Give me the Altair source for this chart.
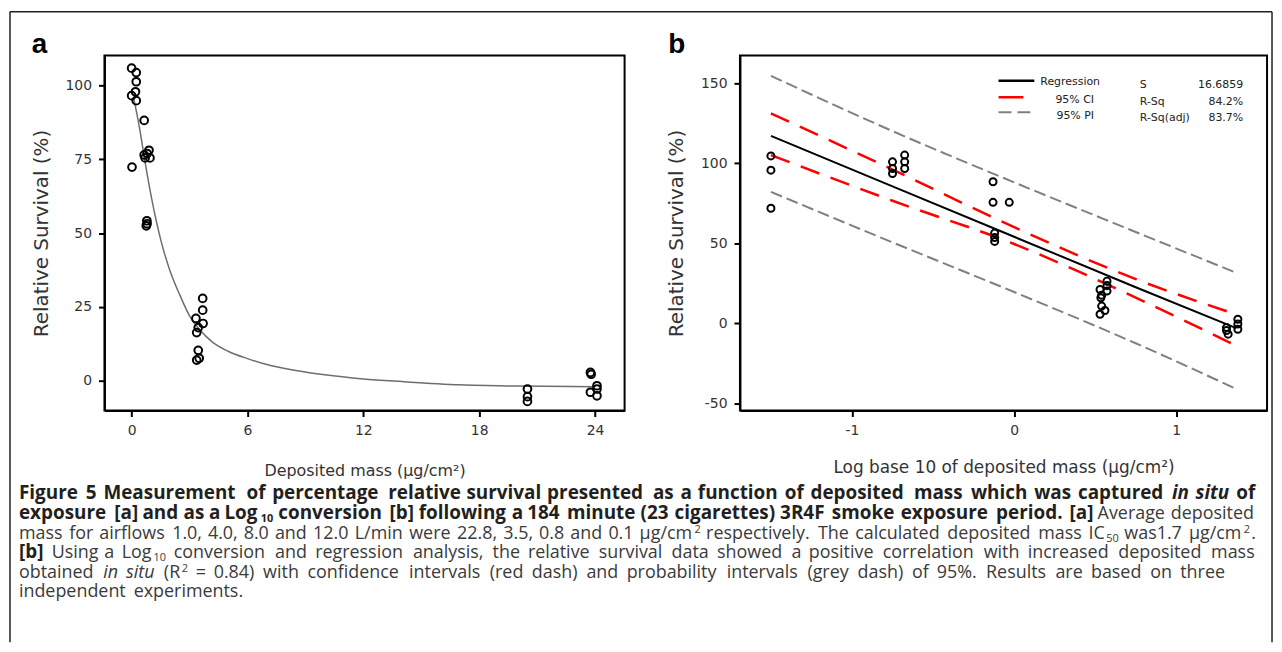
import altair as alt
import pandas as pd

# ---------------- data: panel a ----------------
a_mass = [0.0, 0.24, 0.24, 0.2, 0.0, 0.24, 0.02, 0.65, 0.65, 0.7, 0.9, 0.95, 0.8, 0.79, 0.8, 0.76,
          3.33, 3.68, 3.68, 3.7, 3.37, 3.45, 3.45, 3.37, 3.5,
          20.5, 20.5, 20.5, 23.76, 23.8, 24.1, 24.1, 23.76, 24.1]
a_surv = [105.9, 104.4, 101.3, 97.9, 96.6, 94.9, 72.4, 88.2, 76.5, 75.5, 78.1, 75.5, 77.0, 54.2, 53.2, 52.5,
          21.1, 27.9, 23.9, 19.4, 16.3, 18.0, 10.3, 7.0, 7.6,
          -2.8, -5.4, -7.0, 2.8, 2.2, -1.7, -2.8, -3.9, -5.1]
curve_mass = [0.1, 0.4, 0.7, 1.0, 1.5, 2.0, 2.5, 3.0, 3.5, 4.2, 5.0, 6.0, 7.0, 8.5, 10.0, 12.0, 14.0, 17.0, 20.0, 24.0]
curve_surv = [96, 86, 74, 63, 48, 37, 29, 22, 17.5, 13, 10, 7.5, 5.5, 3.5, 2.0, 0.6, -0.3, -1.4, -1.8, -2.0]

# ---------------- data: panel b ----------------
b_log = [-1.5, -1.5, -1.5, -0.75, -0.75, -0.75, -0.675, -0.675, -0.675,
         -0.13, -0.13, -0.12, -0.12, -0.12, -0.03,
         0.573, 0.573, 0.53, 0.573, 0.54, 0.535, 0.54, 0.53, 0.56,
         1.38, 1.38, 1.38, 1.31, 1.32, 1.31]
b_surv = [104.5, 95.6, 71.8, 100.8, 96.6, 93.5, 105.0, 100.8, 96.6,
          88.4, 75.5, 56.3, 53.5, 51.1, 75.5,
          26.3, 23.5, 21.1, 20.1, 17.5, 15.9, 10.7, 5.6, 8.0,
          2.5, -0.5, -3.7, -2.7, -6.8, -4.5]
fit_x = [-1.5, -0.75, 0.0, 0.75, 1.37]
reg_y = [117.0, 85.5, 54.0, 22.5, -3.0]
ci_hi = [131.0, 96.0, 60.0, 27.6, 5.5]
ci_lo = [105.0, 76.5, 49.5, 16.0, -14.0]
pi_hi = [154.5, 120.0, 88.0, 57.0, 31.5]
pi_lo = [82.0, 50.5, 19.5, -12.5, -41.0]

legend_labels = ["Regression", "95% CI", "95% PI"]
stat_names = ["S", "R-Sq", "R-Sq(adj)"]
stat_values = ["16.6859", "84.2%", "83.7%"]

a_xticks = [0, 6, 12, 18, 24]
a_yticks = [0, 25, 50, 75, 100]
b_xticks = [-1, 0, 1]
b_yticks = [-50, 0, 50, 100, 150]

# caption: each line is a list of runs (text, style); "~" glues a run to the previous word
caption_lines = [
    [("Figure 5 Measurement of percentage relative survival presented as a function of deposited mass which was captured", "b"),
     ("in situ", "bi"), ("of", "b")],
    [("exposure [a] and as a Log", "b"), ("~10", "bsub"),
     ("conversion [b] following a 184 minute (23 cigarettes) 3R4F smoke exposure period. [a]", "b"),
     ("Average deposited", "r")],
    [("mass for airflows 1.0, 4.0, 8.0 and 12.0 L/min were 22.8, 3.5, 0.8 and 0.1 \u00b5g/cm", "r"), ("~2", "sup"),
     ("respectively. The calculated deposited mass IC", "r"), ("~50", "sub"), ("was1.7 \u00b5g/cm", "r"),
     ("~2", "sup"), ("~.", "r")],
    [("[b]", "b"), ("Using a Log", "r"), ("~10", "sub"),
     ("conversion and regression analysis, the relative survival data showed a positive correlation with increased deposited mass", "r")],
    [("obtained", "r"), ("in situ", "i"), ("(R", "r"), ("~2", "sup"),
     ("= 0.84) with confidence intervals (red dash) and probability intervals (grey dash) of 95%. Results are based on three", "r")],
    [("independent experiments.", "r")],
]
line_base = [499, 519.5, 539, 558.5, 578, 597.5]
line_end = [1262, 1262, 1262, 1262, 1232, None]
CAP_X0 = 18

# ---------------- layout constants ----------------
AX0, AY0 = 104, 53      # page position of panel a plot area
BX0, BY0 = 743, 53      # page position of panel b plot area
W_A, H_A = 523, 357
W_B, H_B = 530, 357
CAP_FONT = "Open Sans"
CAP_SIZE = 18
BOLD_SIZE = 19
SUB_SIZE = 11

# approximate Open Sans advance widths (em) used only for word spacing
_W = {' ': 0.26, 'a': 0.556, 'b': 0.613, 'c': 0.476, 'd': 0.613, 'e': 0.561, 'f': 0.339, 'g': 0.548,
      'h': 0.614, 'i': 0.253, 'j': 0.253, 'k': 0.525, 'l': 0.253, 'm': 0.93, 'n': 0.614, 'o': 0.604,
      'p': 0.613, 'q': 0.613, 'r': 0.408, 's': 0.477, 't': 0.353, 'u': 0.614, 'v': 0.501, 'w': 0.778,
      'x': 0.524, 'y': 0.502, 'z': 0.477, 'A': 0.633, 'C': 0.631, 'F': 0.516, 'G': 0.728, 'I': 0.279,
      'L': 0.524, 'M': 0.903, 'R': 0.625, 'S': 0.547, 'T': 0.56, '.': 0.266, ',': 0.245, '(': 0.297,
      ')': 0.297, '[': 0.301, ']': 0.301, '/': 0.35, '%': 0.855, '=': 0.572, '\u00b5': 0.614, '-': 0.322}
_FACT = {"r": 1.0, "i": 0.97, "b": 1.08, "bi": 1.06, "sub": 1.0, "bsub": 1.08, "sup": 1.0}
_SIZE = {"r": CAP_SIZE, "i": CAP_SIZE, "b": BOLD_SIZE, "bi": BOLD_SIZE,
         "sub": SUB_SIZE, "bsub": SUB_SIZE, "sup": SUB_SIZE}
SAFE = 1.03   # slight over-estimate keeps neighbouring words apart


def est_width(s, style):
    return sum(_W.get(c, 0.572) for c in s) * _SIZE[style] * _FACT[style] * SAFE


def layout_caption():
    out = []  # (text, style, page_x, line)
    for ln, runs in enumerate(caption_lines):
        words = []  # each word: list of (text, style)
        for text, style in runs:
            glue = text.startswith("~")
            if glue:
                text = text[1:]
            parts = text.split(" ")
            for k, p in enumerate(parts):
                if k == 0 and glue and words:
                    words[-1].append((p, style))
                else:
                    words.append([(p, style)])

        def wwidth(w):
            return sum(est_width(t, s) for t, s in w) + 1.0 * (len(w) - 1)

        widths = [wwidth(w) for w in words]
        space = _W[' '] * CAP_SIZE
        gaps = len(words) - 1
        if line_end[ln] is not None and gaps > 0:
            free = (line_end[ln] - CAP_X0) - sum(widths)
            space = max(free / gaps, 0.8 * space)
        x = CAP_X0
        for w, wd in zip(words, widths):
            xx = x
            for t, s in w:
                out.append((t, s, xx, ln))
                xx += est_width(t, s) + 1.0
            x += wd + space
    return out


def txt(s, x, y, **kw):
    return alt.Chart(pd.DataFrame({"t": [s]})).mark_text(**kw).encode(
        x=alt.value(x), y=alt.value(y), text="t:N")


def hrule(x1, x2, y, **kw):
    return alt.Chart(pd.DataFrame({"d": [0]})).mark_rule(**kw).encode(
        x=alt.value(x1), x2=alt.value(x2), y=alt.value(y))


def vrule(x, y1, y2, **kw):
    return alt.Chart(pd.DataFrame({"d": [0]})).mark_rule(**kw).encode(
        x=alt.value(x), y=alt.value(y1), y2=alt.value(y2))


# ---------------- panel a ----------------
dfa = pd.DataFrame({"mass": a_mass, "surv": a_surv})
dfc = pd.DataFrame({"mass": curve_mass, "surv": curve_surv})

xa = alt.X("mass:Q", scale=alt.Scale(domain=[-1.406, 25.53], nice=False, zero=False),
           axis=alt.Axis(values=a_xticks, title="Deposited mass (\u00b5g/cm\u00b2)", titleFontSize=16,
                         titleY=65, titleBaseline="alphabetic", labelPadding=7))
ya = alt.Y("surv:Q", scale=alt.Scale(domain=[-10.1, 110.2], nice=False, zero=False),
           axis=alt.Axis(values=a_yticks, title="Relative Survival (%)", titleFontSize=20,
                         titleX=-57, titleY=H_A / 2, titleAngle=-90, titleAlign="center",
                         titleBaseline="alphabetic", labelPadding=7))

a_curve = alt.Chart(dfc).mark_line(color="#6e6e6e", strokeWidth=1.5, interpolate="monotone").encode(x=xa, y=ya)
a_pts = alt.Chart(dfa).mark_point(shape="circle", filled=False, size=60, strokeWidth=2,
                                  color="black", opacity=1).encode(x=xa, y=ya)

a_layers = [a_curve, a_pts,
            txt("a", -73, -3, font="Liberation Sans", fontWeight="bold", fontSize=28,
                align="left", baseline="alphabetic", color="black")]

# outer frame (left, top, right)
fx1, fx2, fy1, fy2 = 9 - AX0, 1278 - AX0, 9 - AY0, 643 - AY0
a_layers += [vrule(fx1, fy1, fy2, color="#222", strokeWidth=1.5),
             hrule(fx1, fx2, fy1, color="#222", strokeWidth=1.5),
             vrule(fx2, fy1, fy2, color="#222", strokeWidth=1.5)]

style_map = {
    "r": dict(fontWeight="normal", fontStyle="normal", dy=0, color="#3a3a3a"),
    "b": dict(fontWeight="bold", fontStyle="normal", dy=0, color="#231f20"),
    "i": dict(fontWeight="normal", fontStyle="italic", dy=0, color="#3a3a3a"),
    "bi": dict(fontWeight="bold", fontStyle="italic", dy=0, color="#231f20"),
    "bsub": dict(fontWeight="bold", fontStyle="normal", dy=3, color="#231f20"),
    "sub": dict(fontWeight="normal", fontStyle="normal", dy=3, color="#3a3a3a"),
    "sup": dict(fontWeight="normal", fontStyle="normal", dy=-6, color="#3a3a3a"),
}
for s, st, px, ln in layout_caption():
    if not s:
        continue
    m = style_map[st]
    a_layers.append(txt(s, px - AX0, line_base[ln] - AY0 + m["dy"], font=CAP_FONT,
                        fontWeight=m["fontWeight"], fontStyle=m["fontStyle"], fontSize=_SIZE[st],
                        align="left", baseline="alphabetic", color=m["color"]))

panel_a = alt.layer(*a_layers).properties(width=W_A, height=H_A)

# ---------------- panel b ----------------
dfb = pd.DataFrame({"lg": b_log, "surv": b_surv})
xb = alt.X("lg:Q", scale=alt.Scale(domain=[-1.691, 1.560], nice=False, zero=False),
           axis=alt.Axis(values=b_xticks, title="Log base 10 of deposited mass (\u00b5g/cm\u00b2)",
                         titleFontSize=17, titleY=62, titleBaseline="alphabetic", labelPadding=7,
                         labelExpr="'' + datum.value"))
yb = alt.Y("surv:Q", scale=alt.Scale(domain=[-54.5, 167.2], nice=False, zero=False),
           axis=alt.Axis(values=b_yticks, title="Relative Survival (%)", titleFontSize=20,
                         titleX=-58, titleY=H_B / 2, titleAngle=-90, titleAlign="center",
                         titleBaseline="alphabetic", labelPadding=7, labelExpr="'' + datum.value"))


def band(lo, hi):
    return pd.DataFrame({"lg": fit_x + fit_x, "surv": lo + hi,
                         "side": ["lo"] * len(fit_x) + ["hi"] * len(fit_x)})


b_pi = alt.Chart(band(pi_lo, pi_hi)).mark_line(color="#808080", strokeWidth=2, strokeDash=[12, 5],
                                                 interpolate="monotone").encode(x=xb, y=yb, detail="side:N")
b_ci = alt.Chart(band(ci_lo, ci_hi)).mark_line(color="#ff0000", strokeWidth=2.5, strokeDash=[20, 12],
                                                 interpolate="monotone").encode(x=xb, y=yb, detail="side:N")
b_reg = alt.Chart(pd.DataFrame({"lg": fit_x, "surv": reg_y})).mark_line(color="black", strokeWidth=2).encode(x=xb, y=yb)
b_pts = alt.Chart(dfb).mark_point(shape="circle", filled=False, size=50, strokeWidth=2,
                                  color="black", opacity=1).encode(x=xb, y=yb)

b_layers = [b_pi, b_ci, b_reg, b_pts,
            txt("b", -72, -3, font="Liberation Sans", fontWeight="bold", fontSize=28,
                align="left", baseline="alphabetic", color="black")]

# legend box content
lg_font = dict(font="DejaVu Sans", fontSize=11, color="#222", baseline="middle")
b_layers += [
    hrule(1003 - BX0, 1039 - BX0, 78.5 - BY0, color="black", strokeWidth=2.5),
    hrule(1003 - BX0, 1028 - BX0, 95 - BY0, color="#ff0000", strokeWidth=2.5),
    hrule(1003 - BX0, 1035 - BX0, 110 - BY0, color="#808080", strokeWidth=2, strokeDash=[13, 6]),
    txt(legend_labels[0], 1045 - BX0, 80 - BY0, align="left", **lg_font),
    txt(legend_labels[1], 1099 - BX0, 97.5 - BY0, align="right", **lg_font),
    txt(legend_labels[2], 1099 - BX0, 114 - BY0, align="right", **lg_font),
]
for i, (n, v) in enumerate(zip(stat_names, stat_values)):
    yy = [82.7, 100, 116][i] - BY0
    b_layers.append(txt(n, 1145 - BX0, yy, align="left", **lg_font))
    b_layers.append(txt(v, 1249 - BX0, yy, align="right", **lg_font))

panel_b = alt.layer(*b_layers).properties(width=W_B, height=H_B)

chart = alt.hconcat(panel_a, panel_b, spacing=BX0 - AX0 - W_A, bounds="flush").properties(
    padding=0, background="white"
).configure_view(stroke="black", strokeWidth=2).configure_axis(
    domainColor="black", domainWidth=2, tickColor="black", tickWidth=2, tickSize=6,
    labelFont="DejaVu Sans", labelFontSize=14, labelColor="#333", grid=False,
    titleFont="DejaVu Sans", titleColor="#333", titleFontWeight="normal"
)

chart.save("out.html", embed_options={"renderer": "svg", "actions": False})
